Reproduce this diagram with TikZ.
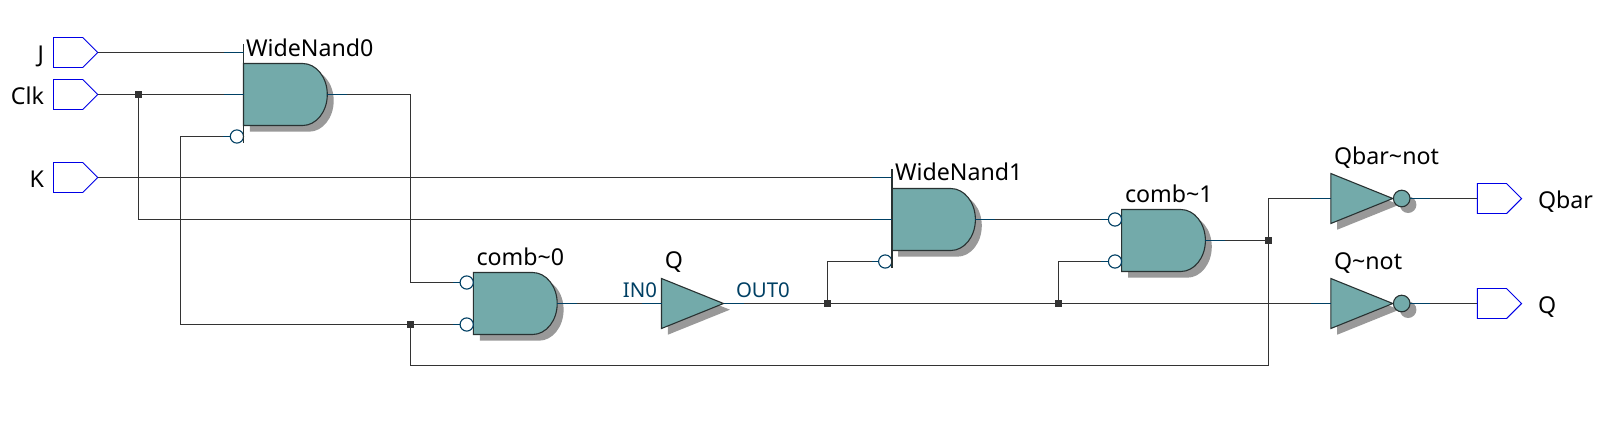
\documentclass[tikz,border=0pt]{standalone}
\usepackage{fontspec}
\setmainfont{Noto Sans}
\usetikzlibrary{shapes.symbols,shadows}
\makeatletter
\pgfdeclareshape{andbody}{
  \inheritsavedanchors[from=rectangle]
  \inheritanchorborder[from=rectangle]
  \inheritanchor[from=rectangle]{center}
  \inheritanchor[from=rectangle]{north}
  \inheritanchor[from=rectangle]{south}
  \inheritanchor[from=rectangle]{east}
  \inheritanchor[from=rectangle]{west}
  \backgroundpath{
    \southwest \pgf@xa=\pgf@x \pgf@ya=\pgf@y
    \northeast \pgf@xb=\pgf@x \pgf@yb=\pgf@y
    \pgf@xc=\pgf@xb \advance\pgf@xc by -12.3pt
    \edef\gxa{\the\pgf@xa}\edef\gya{\the\pgf@ya}\edef\gxc{\the\pgf@xc}\edef\gyb{\the\pgf@yb}
    \pgfpathmoveto{\pgfqpoint{\gxa}{\gya}}
    \pgfpathlineto{\pgfqpoint{\gxc}{\gya}}
    \pgfpatharc{-90}{90}{12.3pt and 15.5pt}
    \pgfpathlineto{\pgfqpoint{\gxa}{\gyb}}
    \pgfpathclose
  }
}
\pgfdeclareshape{bufbody}{
  \inheritsavedanchors[from=rectangle]
  \inheritanchorborder[from=rectangle]
  \inheritanchor[from=rectangle]{center}
  \inheritanchor[from=rectangle]{north}
  \inheritanchor[from=rectangle]{south}
  \inheritanchor[from=rectangle]{east}
  \inheritanchor[from=rectangle]{west}
  \backgroundpath{
    \southwest \pgf@xa=\pgf@x \pgf@ya=\pgf@y
    \northeast \pgf@xb=\pgf@x \pgf@yb=\pgf@y
    \pgf@yc=.5\pgf@ya \advance\pgf@yc by .5\pgf@yb
    \pgfpathmoveto{\pgfqpoint{\pgf@xa}{\pgf@ya}}
    \pgfpathlineto{\pgfqpoint{\pgf@xb}{\pgf@yc}}
    \pgfpathlineto{\pgfqpoint{\pgf@xa}{\pgf@yb}}
    \pgfpathclose
  }
}
\makeatother
\definecolor{gatefill}{RGB}{115,170,170}
\definecolor{gateline}{RGB}{40,50,50}
\definecolor{wirec}{RGB}{51,51,51}
\definecolor{stubc}{RGB}{0,64,100}
\definecolor{shadowc}{RGB}{153,153,153}
\definecolor{pinc}{RGB}{0,0,230}
\tikzset{
  x=0.5pt,y=-0.5pt,
  every node/.style={inner sep=0pt,outer sep=0pt},
  gateshadow/.style={general shadow={fill=shadowc,draw=none,shadow xshift=3.2pt,shadow yshift=-3.1pt}},
  andgate/.style={andbody,draw=gateline,line width=0.55pt,fill=gatefill,minimum width=41.9pt,minimum height=31pt,gateshadow},
  bufgate/.style={bufbody,draw=gateline,line width=0.55pt,fill=gatefill,minimum width=31pt,minimum height=25pt,gateshadow},
  outbub/.style={circle,draw=gateline,line width=0.55pt,fill=gatefill,minimum size=8.3pt,gateshadow},
  inbub/.style={circle,draw=stubc,line width=0.55pt,fill=white,minimum size=6.6pt},
  pin/.style={signal,signal to=east,signal pointer angle=90,draw=pinc,line width=0.45pt,fill=white,minimum width=22.1pt,minimum height=15pt,anchor=west},
  dot/.style={rectangle,fill=wirec,minimum size=3.4pt},
  wire/.style={draw=wirec,line width=0.6pt},
  stub/.style={draw=stubc,line width=0.6pt},
  bar/.style={draw=gateline,line width=0.6pt},
  lbl/.style={font=\fontsize{11.6pt}{14pt}\selectfont,text=black},
  portlbl/.style={font=\fontsize{10.2pt}{12pt}\selectfont,text=stubc},
}
\begin{document}
\begin{tikzpicture}
\useasboundingbox[fill=white] (0,0) rectangle (1602,423);
% pins
\node[pin] (pJ) at (53.5,52.5) {};
\node[pin] (pC) at (53.5,94.5) {};
\node[pin] (pK) at (53.5,177.5) {};
\node[pin] (pQb) at (1477.4,198.5) {};
\node[pin] (pQ) at (1477.4,303.5) {};
% gates
\node[andgate] (wn0) at (285.4,94.5) {};
\node[andgate] (wn1) at (933.5,219.5) {};
\node[andgate] (cb0) at (515.3,303.5) {};
\node[andgate] (cb1) at (1163.5,240.5) {};
\node[bufgate] (buf) at (692.5,303.5) {};
\node[bufgate] (nb) at (1361.8,198.5) {};
\node[bufgate] (nq) at (1361.8,303.5) {};
\node[outbub] (nbo) at (1401.7,198.5) {};
\node[outbub] (nqo) at (1401.7,303.5) {};
% input bubbles
\node[inbub] (wn0i) at (236.9,136.5) {};
\node[inbub] (wn1i) at (885.2,261.5) {};
\node[inbub] (cb0a) at (466.7,282.5) {};
\node[inbub] (cb0b) at (466.7,324.5) {};
\node[inbub] (cb1a) at (1115,219.5) {};
\node[inbub] (cb1b) at (1115,261.5) {};
% junctions
\node[dot] (jC) at (138.5,94.5) {};
\node[dot] (jF) at (410.5,324.5) {};
\node[dot] (jO) at (827.5,303.5) {};
\node[dot] (jP) at (1058.5,303.5) {};
\node[dot] (jR) at (1268.5,240.5) {};
% bars
\coordinate (b0t) at (243.6,44);
\coordinate (b0b) at (243.6,143);
\coordinate (b1t) at (892,169);
\coordinate (b1b) at (892,268.3);
\coordinate (fb) at (180.5,324.5);
\coordinate (cb0in) at (410.5,282.5);
\coordinate (ret) at (1268.5,365.5);
\draw[bar] (b0t) -- (b0b);
\draw[bar] (b1t) -- (b1b);
% wires
\draw[wire] (pJ.east) -- (pJ.east -| b0t);
\draw[wire] (pC.east) -- (wn0.west);
\draw[wire] (pK.east) -- (pK.east -| b1t);
\draw[wire] (jC) |- (wn1.west);
\draw[wire] (wn0i.west) -| (fb) -- (jF);
\draw[wire] (jF) -- (cb0b.west);
\draw[wire] (wn0.east) -| (cb0in) -- (cb0a.west);
\draw[wire] (cb0.east) -- (buf.west);
\draw[wire] (buf.east) -- (jO);
\draw[wire] (jO) -- (jP);
\draw[wire] (jP) -- (nq.west);
\draw[wire] (jO) |- (wn1i.west);
\draw[wire] (jP) |- (cb1b.west);
\draw[wire] (wn1.east) -- (cb1a.west);
\draw[wire] (cb1.east) -- (jR);
\draw[wire] (jF) |- (ret) -- (jR);
\draw[wire] (jR) |- (nb.west);
\draw[wire] (nbo.east) -- (pQb.west);
\draw[wire] (nqo.east) -- (pQ.west);
% coloured stubs at the ports
\foreach \p in {pJ.east -| b0t, wn0.west, pK.east -| b1t, wn1.west, nb.west, nq.west, buf.west}
  \draw[stub] (\p) -- ++(-20,0);
\foreach \p in {wn0i.west, wn1i.west, cb0a.west, cb0b.west, cb1a.west, cb1b.west}
  \draw[stub] (\p) -- ++(-7,0);
\foreach \p in {wn0.east, wn1.east, cb0.east, cb1.east, buf.east, nbo.east, nqo.east}
  \draw[stub] (\p) -- ++(20,0);
% labels
\node[lbl,anchor=base east] (tJ) at (44,62) {J};
\node[lbl,anchor=base east] (tC) at (44,104) {Clk};
\node[lbl,anchor=base east] (tK) at (44,187.7) {K};
\node[lbl,anchor=base west] (tW0) at (246,56) {WideNand0};
\node[lbl,anchor=base west] (tW1) at (895,180.7) {WideNand1};
\node[lbl,anchor=base west] (tC0) at (476.5,265) {comb\char`\~0};
\node[lbl,anchor=base west] (tC1) at (1125,202.3) {comb\char`\~1};
\node[lbl,anchor=base] (tQm) at (674,268) {Q};
\node[portlbl,anchor=base east] (tIn) at (657,297.7) {IN0};
\node[portlbl,anchor=base west] (tOut) at (736,297.7) {OUT0};
\node[lbl,anchor=base west] (tNb) at (1334,164.3) {Qbar\char`\~not};
\node[lbl,anchor=base west] (tNq) at (1334,269.3) {Q\char`\~not};
\node[lbl,anchor=base west] (tQb) at (1538,208) {Qbar};
\node[lbl,anchor=base west] (tQ) at (1538,313) {Q};
\end{tikzpicture}
\end{document}
